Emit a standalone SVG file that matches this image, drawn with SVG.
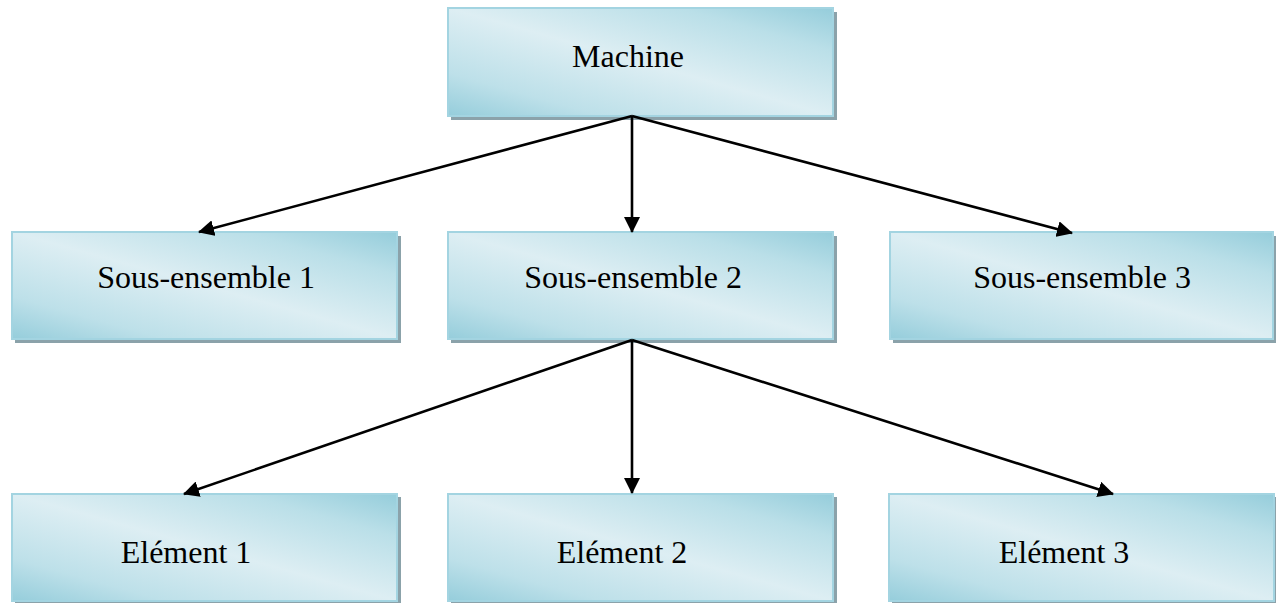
<svg xmlns="http://www.w3.org/2000/svg" width="1276" height="603" viewBox="0 0 1276 603">
<defs>
<linearGradient id="g" x1="1" y1="0" x2="0" y2="1">
<stop offset="0" stop-color="#95cddb"/>
<stop offset="0.2" stop-color="#badfe8"/>
<stop offset="0.5" stop-color="#ddeef3"/>
<stop offset="0.8" stop-color="#bde0e9"/>
<stop offset="1" stop-color="#95cddb"/>
</linearGradient>
<marker id="ah" markerWidth="16" markerHeight="16" viewBox="0 0 16 16" refX="15" refY="8" orient="auto" markerUnits="userSpaceOnUse">
<path d="M0,0 L16,8 L0,16 Z" fill="#000"/>
</marker>
</defs>
<style>
.sh{fill:#8ba2aa}
.bx{fill:url(#g);stroke:#a3d4e1;stroke-width:2}
.t{font-family:"Liberation Serif","Times New Roman",serif;font-size:32px;fill:#000;text-anchor:middle}
.c{stroke:#000;stroke-width:2.6;fill:none;marker-end:url(#ah)}
</style>
<rect width="1276" height="603" fill="#fff"/>
<g id="machine">
<rect class="sh" x="451" y="12" width="386" height="108"/>
<rect class="bx" x="448" y="8" width="385" height="108"/>
<text class="t" x="628" y="67">Machine</text>
</g>
<g id="se1">
<rect class="sh" x="15" y="236" width="386" height="107"/>
<rect class="bx" x="12" y="232" width="385" height="107"/>
<text class="t" x="206" y="288">Sous-ensemble 1</text>
</g>
<g id="se2">
<rect class="sh" x="451" y="236" width="386" height="107"/>
<rect class="bx" x="448" y="232" width="385" height="107"/>
<text class="t" x="633" y="288">Sous-ensemble 2</text>
</g>
<g id="se3">
<rect class="sh" x="893" y="236" width="383" height="107"/>
<rect class="bx" x="890" y="232" width="383" height="107"/>
<text class="t" x="1082" y="288">Sous-ensemble 3</text>
</g>
<g id="el1">
<rect class="sh" x="15" y="497" width="386" height="108"/>
<rect class="bx" x="12" y="494" width="385" height="107"/>
<text class="t" x="186" y="563">Elément 1</text>
</g>
<g id="el2">
<rect class="sh" x="451" y="497" width="386" height="108"/>
<rect class="bx" x="448" y="494" width="385" height="107"/>
<text class="t" x="622" y="563">Elément 2</text>
</g>
<g id="el3">
<rect class="sh" x="892" y="497" width="384" height="108"/>
<rect class="bx" x="889" y="494" width="385" height="107"/>
<text class="t" x="1064" y="563">Elément 3</text>
</g>
<g id="connectors">
<line class="c" x1="632" y1="116" x2="199" y2="232"/>
<line class="c" x1="632" y1="116" x2="632" y2="232"/>
<line class="c" x1="632" y1="116" x2="1072" y2="233"/>
<line class="c" x1="632" y1="340" x2="184" y2="494"/>
<line class="c" x1="632" y1="340" x2="632" y2="493"/>
<line class="c" x1="632" y1="340" x2="1113" y2="494"/>
</g>
</svg>
